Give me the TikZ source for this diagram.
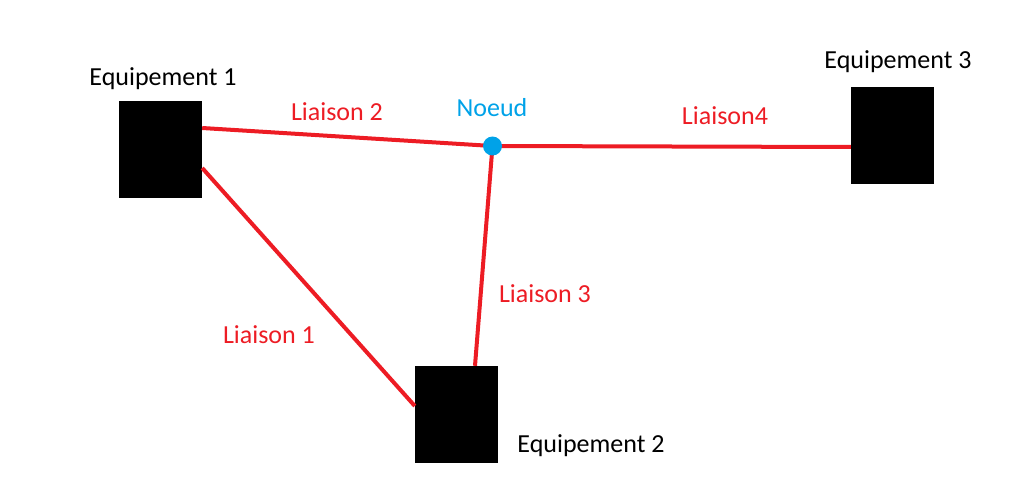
\documentclass[tikz,border=0pt]{standalone}
\usepackage{fontspec}
\setmainfont{Carlito}
\usetikzlibrary{positioning,calc}
\definecolor{lienrouge}{RGB}{237,28,36}
\definecolor{noeudbleu}{RGB}{0,162,232}
\tikzset{
  equip/.style={fill=black, draw=none, minimum width=83pt, minimum height=97pt, inner sep=0pt},
  equiplabel/.style={anchor=base, inner sep=0pt, font=\fontsize{26}{30}\selectfont},
  lien/.style={draw=lienrouge, line width=4pt},
  lienlabel/.style={anchor=base, inner sep=0pt, text=lienrouge, font=\fontsize{26}{30}\selectfont},
  noeudpt/.style={circle, fill=noeudbleu, minimum size=19pt, inner sep=0pt}
}
\begin{document}
\begin{tikzpicture}[x=1pt,y=-1pt]
\useasboundingbox (0,0) rectangle (1029,500);

% Equipements
\node[equip] (eq1) at (160.5,149.5) {};
\node[equip] (eq2) at (456.5,414.5) {};
\node[equip] (eq3) at (892.5,135.5) {};
\node[equiplabel] (eq1lbl) at (163,86) {Equipement 1};
\node[equiplabel] (eq2lbl) at (591,452) {Equipement 2};
\node[equiplabel] (eq3lbl) at (898,69) {Equipement 3};

% Noeud
\coordinate (n) at (492.5,146);

% Liaisons
\draw[lien] ([yshift=21.5pt]eq1.east) -- (n);
\draw[lien] ([yshift=-18.5pt]eq1.east) -- ([yshift=8.5pt]eq2.west);
\draw[lien] (n) -- ([xshift=18.5pt]eq2.north);
\draw[lien] (n) -- ([yshift=-11.5pt]eq3.west);

\node[noeudpt] (noeud) at (n) {};
\node[equiplabel, text=noeudbleu] (noeudlbl) at (492,117) {Noeud};

% Labels des liaisons
\node[lienlabel] (l1) at (269,343) {Liaison 1};
\node[lienlabel] (l2) at (337,121) {Liaison 2};
\node[lienlabel] (l3) at (545,302) {Liaison 3};
\node[lienlabel] (l4) at (725,125) {Liaison4};
\end{tikzpicture}
\end{document}
